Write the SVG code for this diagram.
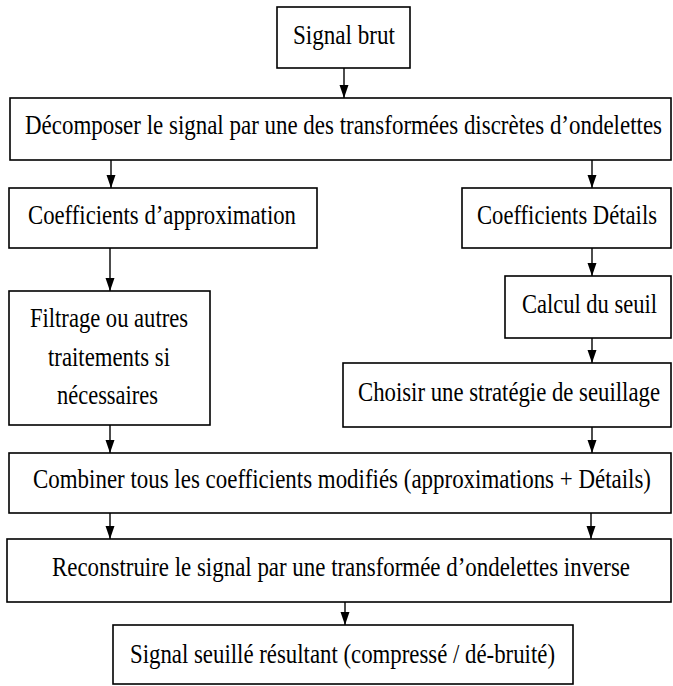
<svg xmlns="http://www.w3.org/2000/svg" width="673" height="686" viewBox="0 0 673 686">
<style>
.box{fill:#fff;stroke:#000;stroke-width:1.6}
.t{font-family:"Liberation Serif","Times New Roman",serif;font-size:28px;fill:#000}
.c{stroke:#000;stroke-width:1.4;fill:none}
</style>
<defs>
<marker id="ah" markerUnits="userSpaceOnUse" markerWidth="14" markerHeight="10" refX="13" refY="4.5" orient="auto">
<path d="M0,0 L13,4.5 L0,9 z" fill="#000"/>
</marker>
</defs>
<rect width="673" height="686" fill="#fff"/>
<g id="connectors">
<line class="c" x1="344" y1="68" x2="344" y2="98" marker-end="url(#ah)"/>
<line class="c" x1="111" y1="160" x2="111" y2="188" marker-end="url(#ah)"/>
<line class="c" x1="592" y1="160" x2="592" y2="188" marker-end="url(#ah)"/>
<line class="c" x1="110" y1="248" x2="110" y2="291" marker-end="url(#ah)"/>
<line class="c" x1="592" y1="248" x2="592" y2="276" marker-end="url(#ah)"/>
<line class="c" x1="592" y1="338" x2="592" y2="363" marker-end="url(#ah)"/>
<line class="c" x1="110" y1="425" x2="110" y2="453" marker-end="url(#ah)"/>
<line class="c" x1="592" y1="427" x2="592" y2="453" marker-end="url(#ah)"/>
<line class="c" x1="110" y1="513" x2="110" y2="539" marker-end="url(#ah)"/>
<line class="c" x1="591" y1="513" x2="591" y2="539" marker-end="url(#ah)"/>
<line class="c" x1="345" y1="602" x2="345" y2="625" marker-end="url(#ah)"/>
</g>
<g id="n1"><rect class="box" x="277" y="7" width="133" height="61"/><g transform="scale(0.75 1)"><text class="t" x="390.67" y="44" textLength="136" lengthAdjust="spacingAndGlyphs">Signal brut</text></g></g>
<g id="n2"><rect class="box" x="10" y="98" width="661" height="62"/><g transform="scale(0.75 1)"><text class="t" x="33.33" y="134" textLength="849.33" lengthAdjust="spacingAndGlyphs">Décomposer le signal par une des transformées discrètes d’ondelettes</text></g></g>
<g id="n3"><rect class="box" x="9" y="188" width="308" height="60"/><g transform="scale(0.75 1)"><text class="t" x="37.33" y="224" textLength="357.33" lengthAdjust="spacingAndGlyphs">Coefficients d’approximation</text></g></g>
<g id="n4"><rect class="box" x="462" y="188" width="209" height="60"/><g transform="scale(0.75 1)"><text class="t" x="636" y="224" textLength="240" lengthAdjust="spacingAndGlyphs">Coefficients Détails</text></g></g>
<g id="n5"><rect class="box" x="9" y="291" width="201" height="134"/><g transform="scale(0.75 1)">
<text class="t" x="40" y="327" textLength="210.67" lengthAdjust="spacingAndGlyphs">Filtrage ou autres</text>
<text class="t" x="64" y="366" textLength="162.67" lengthAdjust="spacingAndGlyphs">traitements si</text>
<text class="t" x="76" y="404" textLength="134.67" lengthAdjust="spacingAndGlyphs">nécessaires</text></g></g>
<g id="n6"><rect class="box" x="505" y="276" width="166" height="62"/><g transform="scale(0.75 1)"><text class="t" x="696" y="313" textLength="180" lengthAdjust="spacingAndGlyphs">Calcul du seuil</text></g></g>
<g id="n7"><rect class="box" x="343" y="363" width="328" height="64"/><g transform="scale(0.75 1)"><text class="t" x="477.33" y="401" textLength="402.67" lengthAdjust="spacingAndGlyphs">Choisir une stratégie de seuillage</text></g></g>
<g id="n8"><rect class="box" x="9" y="453" width="662" height="60"/><g transform="scale(0.75 1)"><text class="t" x="44" y="488" textLength="824" lengthAdjust="spacingAndGlyphs">Combiner tous les coefficients modifiés (approximations + Détails)</text></g></g>
<g id="n9"><rect class="box" x="7" y="539" width="664" height="63"/><g transform="scale(0.75 1)"><text class="t" x="69.33" y="576" textLength="770.67" lengthAdjust="spacingAndGlyphs">Reconstruire le signal par une transformée d’ondelettes inverse</text></g></g>
<g id="n10"><rect class="box" x="113" y="625" width="460" height="59"/><g transform="scale(0.75 1)"><text class="t" x="173.33" y="663" textLength="566.67" lengthAdjust="spacingAndGlyphs">Signal seuillé résultant (compressé / dé-bruité)</text></g></g>
</svg>
